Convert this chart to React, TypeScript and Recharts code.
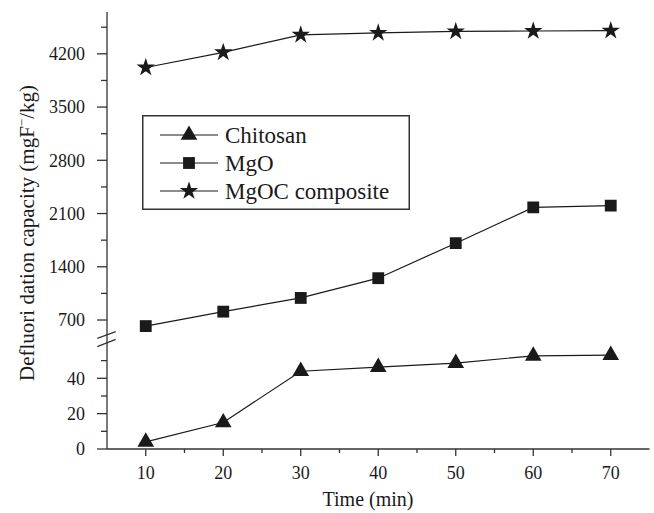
import React from 'react';
import { LineChart, Line, XAxis, YAxis, Legend, Symbols } from 'recharts';

// Defluoridation capacity (mgF-/kg) against contact time (min)
const TIMES = [10, 20, 30, 40, 50, 60, 70];
const CHITOSAN = [4, 15, 44, 46.3, 48.6, 52.7, 53.1];
const MGO = [620, 810, 990, 1250, 1710, 2180, 2205];
const MGOC = [4020, 4220, 4450, 4475, 4495, 4500, 4505];

const SERIES_NAMES = ['Chitosan', 'MgO', 'MgOC composite'];
const SERIES_SYMBOLS = ['triangle', 'square', 'star'] as const;

const X_TICKS = [10, 15, 20, 25, 30, 35, 40, 45, 50, 55, 60, 65, 70];
const X_LABELED = [10, 20, 30, 40, 50, 60, 70];
const UPPER_TICKS = [700, 1050, 1400, 1750, 2100, 2450, 2800, 3150, 3500, 3850, 4200, 4550];
const UPPER_LABELED = [700, 1400, 2100, 2800, 3500, 4200];
const LOWER_TICKS = [0, 10, 20, 30, 40, 50];
const LOWER_LABELED = [0, 20, 40];

const rows = TIMES.map((t, i) => ({
  time: t,
  chitosan: CHITOSAN[i],
  mgo: MGO[i],
  mgoc: MGOC[i],
}));

const SERIF = '"Liberation Serif", "Times New Roman", serif';
const INK = '#1a1a1a';
const AXIS = '#333';

const W = 654;
const Y_AXIS_W = 107;
const RIGHT_M = 4.5;
const UPPER_H = 341;
const UPPER_TOP = 12;
const LOWER_H = 172;
const X_AXIS_H = 64;
const X_AXIS_Y = LOWER_H - X_AXIS_H;

const SYMBOL_SIZE: Record<string, number> = { triangle: 120, square: 140, star: 105 };

const makeDot = (type: 'triangle' | 'square' | 'star') => (p: any) => (
  <Symbols
    key={`${type}-${p.index}`}
    cx={p.cx}
    cy={p.cy}
    type={type}
    size={SYMBOL_SIZE[type]}
    fill={INK}
    stroke="none"
  />
);

const makeYTick = (labeled: number[]) => (p: any) => {
  const { y, payload } = p;
  const major = labeled.includes(payload.value);
  return (
    <g key={`yt-${payload.value}`}>
      <line x1={Y_AXIS_W - (major ? 10 : 6)} x2={Y_AXIS_W} y1={y} y2={y} stroke={AXIS} strokeWidth={1.3} />
      {major && (
        <text x={Y_AXIS_W - 22} y={y} dy="0.35em" textAnchor="end" fontFamily={SERIF} fontSize={18} fill={INK}>
          {payload.value}
        </text>
      )}
    </g>
  );
};

const XTick = (p: any) => {
  const { x, payload } = p;
  const major = X_LABELED.includes(payload.value);
  return (
    <g key={`xt-${payload.value}`}>
      <line x1={x} x2={x} y1={X_AXIS_Y} y2={X_AXIS_Y + (major ? 7 : 4)} stroke={AXIS} strokeWidth={1.3} />
      {major && (
        <text x={x} y={X_AXIS_Y + 17} dy="0.71em" textAnchor="middle" fontFamily={SERIF} fontSize={18} fill={INK}>
          {payload.value}
        </text>
      )}
    </g>
  );
};

const LEGEND_ROWS = [20, 48, 76];

const LegendBox = () => (
  <svg width={268} height={95} style={{ display: 'block' }}>
    <rect x={0.75} y={0.75} width={266.5} height={93.5} fill="#fff" stroke={AXIS} strokeWidth={1.5} />
    {SERIES_NAMES.map((name, i) => (
      <g key={name}>
        <line x1={18} x2={76} y1={LEGEND_ROWS[i]} y2={LEGEND_ROWS[i]} stroke={INK} strokeWidth={1.2} />
        <Symbols cx={47} cy={LEGEND_ROWS[i]} type={SERIES_SYMBOLS[i]} size={SYMBOL_SIZE[SERIES_SYMBOLS[i]]} fill={INK} />
        <text x={83} y={LEGEND_ROWS[i]} dy="0.35em" fontFamily={SERIF} fontSize={23} fill={INK}>
          {name}
        </text>
      </g>
    ))}
  </svg>
);

export default function App() {
  return (
    <div style={{ position: 'absolute', left: 0, top: 0, width: W, height: 513, background: '#fff' }}>
      {/* upper segment: MgO and MgOC composite */}
      <div style={{ position: 'absolute', left: 0, top: 0 }}>
        <LineChart width={W} height={UPPER_H} data={rows} margin={{ top: UPPER_TOP, right: RIGHT_M, bottom: 0, left: 0 }}>
          <XAxis
            xAxisId="t"
            dataKey="time"
            type="number"
            domain={[5, 75]}
            orientation="top"
            height={0}
            tick={false}
            tickLine={false}
            axisLine={{ stroke: AXIS, strokeWidth: 1.3 }}
          />
          <YAxis
            yAxisId="l"
            type="number"
            domain={[424, 4750]}
            allowDataOverflow
            ticks={UPPER_TICKS}
            interval={0}
            width={Y_AXIS_W}
            tickLine={false}
            tick={makeYTick(UPPER_LABELED)}
            axisLine={{ stroke: AXIS, strokeWidth: 1.3 }}
          />
          <YAxis
            yAxisId="r"
            orientation="right"
            width={0}
            tick={false}
            tickLine={false}
            axisLine={{ stroke: AXIS, strokeWidth: 1.3 }}
          />
          <Line xAxisId="t" yAxisId="l" dataKey="mgo" stroke={INK} strokeWidth={1.2} dot={makeDot('square')} isAnimationActive={false} />
          <Line xAxisId="t" yAxisId="l" dataKey="mgoc" stroke={INK} strokeWidth={1.2} dot={makeDot('star')} isAnimationActive={false} />
          <Legend
            layout="vertical"
            align="center"
            verticalAlign="middle"
            content={LegendBox}
            wrapperStyle={{ position: 'absolute', left: 142, top: 115, width: 268, height: 95 }}
          />
        </LineChart>
      </div>

      {/* lower segment: Chitosan, with the time axis */}
      <div style={{ position: 'absolute', left: 0, top: UPPER_H }}>
        <LineChart width={W} height={LOWER_H} data={rows} margin={{ top: 0, right: RIGHT_M, bottom: 0, left: 0 }}>
          <XAxis
            dataKey="time"
            type="number"
            domain={[5, 75]}
            ticks={X_TICKS}
            interval={0}
            height={X_AXIS_H}
            tickLine={false}
            tick={XTick}
            axisLine={{ stroke: AXIS, strokeWidth: 1.3 }}
          />
          <YAxis
            yAxisId="l"
            type="number"
            domain={[0, 61.1]}
            allowDataOverflow
            ticks={LOWER_TICKS}
            interval={0}
            width={Y_AXIS_W}
            tickLine={false}
            tick={makeYTick(LOWER_LABELED)}
            axisLine={{ stroke: AXIS, strokeWidth: 1.3 }}
          />
          <YAxis
            yAxisId="r"
            orientation="right"
            width={0}
            tick={false}
            tickLine={false}
            axisLine={{ stroke: AXIS, strokeWidth: 1.3 }}
          />
          <Line yAxisId="l" dataKey="chitosan" stroke={INK} strokeWidth={1.2} dot={makeDot('triangle')} isAnimationActive={false} />
        </LineChart>
      </div>

      {/* axis titles and break marks */}
      <svg width={W} height={513} style={{ position: 'absolute', left: 0, top: 0, pointerEvents: 'none' }}>
        <line x1={97.3} y1={338.3} x2={115.7} y2={331.7} stroke={AXIS} strokeWidth={1.3} />
        <line x1={97.3} y1={346.7} x2={115.7} y2={339.3} stroke={AXIS} strokeWidth={1.3} />
        <text
          transform="translate(27, 233) rotate(-90)"
          textAnchor="middle"
          dy="0.35em"
          fontFamily={SERIF}
          fontSize={21}
          fill={INK}
        >
          Defluori dation capacity (mgF
          <tspan fontSize={13} dy={-8}>−</tspan>
          <tspan dy={8}>/kg)</tspan>
        </text>
        <text x={368} y={506} textAnchor="middle" fontFamily={SERIF} fontSize={20} fill={INK}>
          Time (min)
        </text>
      </svg>
    </div>
  );
}
